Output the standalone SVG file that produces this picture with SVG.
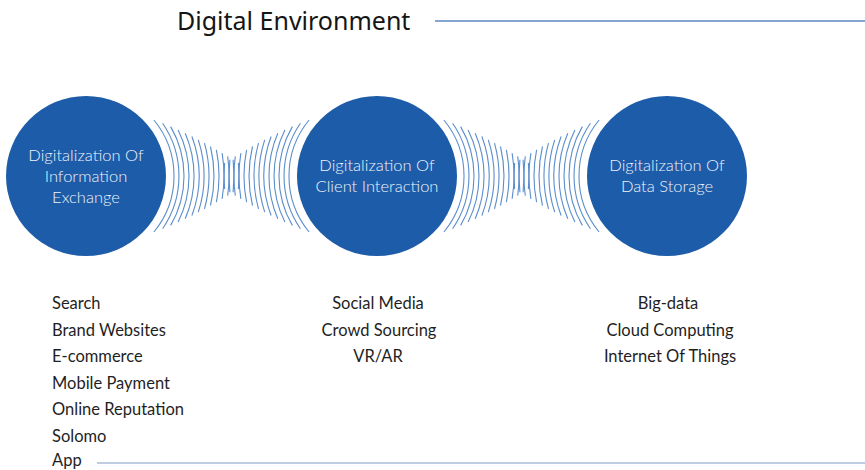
<svg xmlns="http://www.w3.org/2000/svg" xmlns:xlink="http://www.w3.org/1999/xlink" width="865" height="470" viewBox="0 0 865 470">
<style>
.title{font-family:"Noto Sans","Open Sans",sans-serif;font-size:25px;fill:#151515}
.node{fill:#1d5ca9}
.ntext{font-family:Lato,"Noto Sans",sans-serif;font-size:16.5px;font-weight:300;fill:#eef3fa;text-anchor:middle}
.item{font-family:Lato,"Noto Sans",sans-serif;font-size:16.5px;fill:#1f1f1f}
.mid{text-anchor:middle}
.wave{fill:none;stroke:#5b8dcb;stroke-width:1.1}
</style>
<defs>
<g id="waves">
<path class="wave" d="M153.9 120 A88 88 0 0 1 153.9 232"/>
<path class="wave" d="M162.6 123.3 A93 93 0 0 1 162.6 228.7"/>
<path class="wave" d="M170.65 126.6 A98 98 0 0 1 170.65 225.4"/>
<path class="wave" d="M178.1 129.9 A103 103 0 0 1 178.1 222.1"/>
<path class="wave" d="M185.2 133.2 A108 108 0 0 1 185.2 218.8"/>
<path class="wave" d="M191.9 136.5 A113 113 0 0 1 191.9 215.5"/>
<path class="wave" d="M198.3 139.8 A118 118 0 0 1 198.3 212.2"/>
<path class="wave" d="M204.5 143.2 A123 123 0 0 1 204.5 208.8"/>
<path class="wave" d="M210.5 146.5 A128 128 0 0 1 210.5 205.5"/>
<path class="wave" d="M216.4 149.8 A133 133 0 0 1 216.4 202.2"/>
<path class="wave" d="M222.1 153.1 A138 138 0 0 1 222.1 198.9"/>
<path class="wave" d="M227.7 156.4 A143 143 0 0 1 227.7 195.6"/>
<path class="wave" d="M233.1 159.7 A148 148 0 0 1 233.1 192.3"/>
<path class="wave" d="M238.4 163 A153 153 0 0 1 238.4 189"/>
<path class="wave" d="M309.1 120 A88 88 0 0 0 309.1 232"/>
<path class="wave" d="M300.4 123.3 A93 93 0 0 0 300.4 228.7"/>
<path class="wave" d="M292.35 126.6 A98 98 0 0 0 292.35 225.4"/>
<path class="wave" d="M284.9 129.9 A103 103 0 0 0 284.9 222.1"/>
<path class="wave" d="M277.8 133.2 A108 108 0 0 0 277.8 218.8"/>
<path class="wave" d="M271.1 136.5 A113 113 0 0 0 271.1 215.5"/>
<path class="wave" d="M264.7 139.8 A118 118 0 0 0 264.7 212.2"/>
<path class="wave" d="M258.5 143.2 A123 123 0 0 0 258.5 208.8"/>
<path class="wave" d="M252.5 146.5 A128 128 0 0 0 252.5 205.5"/>
<path class="wave" d="M246.6 149.8 A133 133 0 0 0 246.6 202.2"/>
<path class="wave" d="M240.9 153.1 A138 138 0 0 0 240.9 198.9"/>
<path class="wave" d="M235.3 156.4 A143 143 0 0 0 235.3 195.6"/>
<path class="wave" d="M229.9 159.7 A148 148 0 0 0 229.9 192.3"/>
<path class="wave" d="M224.6 163 A153 153 0 0 0 224.6 189"/>
</g>
</defs>

<g id="header">
<text class="title" x="177" y="30">Digital Environment</text>
<line x1="435" y1="21" x2="865" y2="21" stroke="#5b88c2" stroke-width="1.3"/>
</g>

<g id="connectors">
<use href="#waves" xlink:href="#waves"/>
<use href="#waves" xlink:href="#waves" transform="translate(290,0)"/>
</g>

<g id="node-information">
<circle class="node" cx="86" cy="176" r="80"/>
<text class="ntext" x="86" y="161">Digitalization Of</text>
<text class="ntext" x="86" y="182">Information</text>
<text class="ntext" x="86" y="203">Exchange</text>
</g>
<g id="node-client">
<circle class="node" cx="377" cy="176" r="80"/>
<text class="ntext" x="377" y="171">Digitalization Of</text>
<text class="ntext" x="377" y="192">Client Interaction</text>
</g>
<g id="node-data">
<circle class="node" cx="667" cy="176" r="80"/>
<text class="ntext" x="667" y="171">Digitalization Of</text>
<text class="ntext" x="667" y="192">Data Storage</text>
</g>

<g id="list-information">
<text class="item" x="52" y="309">Search</text>
<text class="item" x="52" y="335.5">Brand Websites</text>
<text class="item" x="52" y="362">E-commerce</text>
<text class="item" x="52" y="388.5">Mobile Payment</text>
<text class="item" x="52" y="415">Online Reputation</text>
<text class="item" x="52" y="441.5">Solomo</text>
<text class="item" x="52" y="465.5">App</text>
</g>
<g id="list-client">
<text class="item mid" x="378" y="309">Social Media</text>
<text class="item mid" x="379" y="335.5">Crowd Sourcing</text>
<text class="item mid" x="378" y="362">VR/AR</text>
</g>
<g id="list-data">
<text class="item mid" x="668" y="309">Big-data</text>
<text class="item mid" x="670" y="335.5">Cloud Computing</text>
<text class="item mid" x="670" y="362">Internet Of Things</text>
</g>
<line id="footer-line" x1="97" y1="463" x2="865" y2="463" stroke="#a9bdd8" stroke-width="1.3"/>
</svg>
